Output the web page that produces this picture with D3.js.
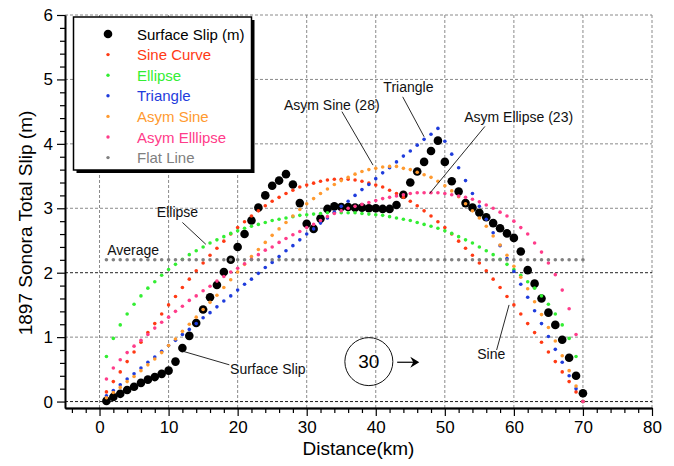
<!DOCTYPE html>
<html>
<head>
<meta charset="utf-8">
<script src="https://cdn.jsdelivr.net/npm/d3@7"></script>
<style>
  body { margin: 0; background: #fff; }
  svg { display: block; }
  text { font-family: "Liberation Sans", Arial, Helvetica, sans-serif; }
</style>
</head>
<body>
<svg id="chart" width="674" height="466"></svg>
<script>
// Distance along the 1897 Sonora rupture (km)
const distanceKm = [1,2,3,4,5,6,7,8,9,10,11,12,13,14,15,16,17,18,19,20,
  21,22,23,24,25,26,27,28,29,30,31,32,33,34,35,36,37,38,39,40,
  41,42,43,44,45,46,47,48,49,50,51,52,53,54,55,56,57,58,59,60,
  61,62,63,64,65,66,67,68,69,70];

// Measured surface slip (m)
const surfaceSlip = [0.01,0.07,0.12,0.18,0.23,0.29,0.34,0.38,0.43,0.48,
  0.62,0.83,1.02,1.22,1.43,1.62,1.81,2.01,2.20,2.40,
  2.60,2.81,3.01,3.20,3.35,3.43,3.53,3.37,3.08,2.76,
  2.68,2.84,2.99,3.03,3.02,3.02,3.01,3.01,3.00,3.00,
  2.99,2.99,3.05,3.21,3.40,3.57,3.72,3.89,4.05,3.72,
  3.42,3.26,3.08,3.01,2.93,2.86,2.77,2.69,2.61,2.54,
  2.33,2.04,1.83,1.60,1.38,1.19,0.96,0.68,0.40,0.13];

// Model slip profiles (m)
const sineCurve = [0.15,0.31,0.46,0.62,0.77,0.92,1.07,1.21,1.36,1.50,
  1.63,1.77,1.90,2.03,2.15,2.27,2.38,2.49,2.60,2.70,
  2.79,2.88,2.96,3.04,3.11,3.17,3.23,3.28,3.33,3.36,
  3.39,3.42,3.44,3.45,3.45,3.45,3.44,3.42,3.39,3.36,
  3.33,3.28,3.23,3.17,3.11,3.04,2.96,2.88,2.79,2.70,
  2.60,2.49,2.38,2.27,2.15,2.03,1.90,1.77,1.63,1.50,
  1.36,1.21,1.07,0.92,0.77,0.62,0.46,0.31,0.15,0.00];

const ellipse = [0.70,0.98,1.19,1.36,1.51,1.64,1.76,1.86,1.96,2.05,
  2.13,2.21,2.28,2.34,2.40,2.46,2.51,2.56,2.61,2.65,
  2.69,2.72,2.75,2.78,2.81,2.83,2.85,2.87,2.89,2.90,
  2.91,2.92,2.93,2.93,2.93,2.93,2.93,2.92,2.91,2.90,
  2.89,2.87,2.85,2.83,2.81,2.78,2.75,2.72,2.69,2.65,
  2.61,2.56,2.51,2.46,2.40,2.34,2.28,2.21,2.13,2.05,
  1.96,1.86,1.76,1.64,1.51,1.36,1.19,0.98,0.70,0.00];

const triangle = [0.09,0.17,0.26,0.35,0.43,0.52,0.61,0.69,0.78,0.87,
  0.95,1.04,1.12,1.21,1.30,1.38,1.47,1.56,1.64,1.73,
  1.82,1.90,1.99,2.08,2.16,2.25,2.34,2.42,2.51,2.60,
  2.68,2.77,2.85,2.94,3.03,3.11,3.20,3.29,3.37,3.46,
  3.55,3.63,3.72,3.81,3.89,3.98,4.07,4.15,4.24,4.04,
  3.84,3.63,3.43,3.23,3.03,2.83,2.62,2.42,2.22,2.02,
  1.82,1.62,1.41,1.21,1.01,0.81,0.61,0.40,0.20,0.00];

const asymSine = [0.06,0.14,0.22,0.31,0.39,0.48,0.57,0.66,0.76,0.87,
  0.97,1.09,1.20,1.31,1.43,1.54,1.65,1.77,1.89,2.01,
  2.13,2.25,2.36,2.47,2.58,2.68,2.78,2.88,2.98,3.07,
  3.15,3.23,3.30,3.37,3.43,3.48,3.53,3.57,3.60,3.62,
  3.64,3.65,3.65,3.62,3.60,3.56,3.52,3.48,3.42,3.35,
  3.27,3.18,3.07,2.96,2.85,2.72,2.57,2.43,2.27,2.10,
  1.93,1.75,1.55,1.35,1.15,0.94,0.71,0.48,0.24,0.00];

const asymEllipse = [0.35,0.52,0.65,0.76,0.86,0.95,1.04,1.14,1.23,1.31,
  1.40,1.48,1.57,1.64,1.72,1.79,1.87,1.94,2.01,2.07,
  2.14,2.21,2.28,2.35,2.40,2.47,2.53,2.59,2.64,2.70,
  2.75,2.81,2.87,2.92,2.96,3.00,3.03,3.06,3.09,3.12,
  3.15,3.17,3.19,3.21,3.23,3.24,3.24,3.24,3.24,3.23,
  3.21,3.19,3.17,3.14,3.10,3.05,3.00,2.94,2.88,2.80,
  2.70,2.60,2.46,2.32,2.15,1.97,1.73,1.44,1.04,0.00];

// Average slip along the rupture (m)
const averageSlip = 2.2;
const flatLine = distanceKm.map(() => averageSlip);

const xTickValues = [0,10,20,30,40,50,60,70,80];
const yTickValues = [0,1,2,3,4,5,6];
const xMinorTicks = [-4,-2,2,4,6,8,12,14,16,18,22,24,26,28,32,34,36,38,42,44,46,48,52,54,56,58,62,64,66,68,72,74,76,78];
const yMinorTicks = [0.2,0.4,0.6,0.8,1.2,1.4,1.6,1.8,2.2,2.4,2.6,2.8,3.2,3.4,3.6,3.8,4.2,4.4,4.6,4.8,5.2,5.4,5.6,5.8];

const seriesNames = ["Sine Curve","Ellipse","Triangle","Asym Sine","Asym Elllipse","Flat Line"];
const seriesValues = [sineCurve, ellipse, triangle, asymSine, asymEllipse, flatLine];
const seriesColors = ["#ff3a14","#33ee33","#1f3cdc","#ff9a30","#ff3c8a","#808080"];

const svg = d3.select("#chart");
const x = d3.scaleLinear().domain([-5, 80]).range([65, 652]);
const y = d3.scaleLinear().domain([-0.1, 6]).range([408, 15]);

// Dashed grid
const grid = svg.append("g");
grid.selectAll("line.v").data(xTickValues).join("line")
  .attr("x1", d => x(d)).attr("x2", d => x(d))
  .attr("y1", y(6)).attr("y2", y(-0.1))
  .attr("stroke", "#8a8a8a").attr("stroke-width", 1).attr("stroke-dasharray", "3,2");
grid.selectAll("line.h").data(yTickValues).join("line")
  .attr("x1", x(-5)).attr("x2", x(80))
  .attr("y1", d => y(d)).attr("y2", d => y(d))
  .attr("stroke", d => (d === 0 || d === 2) ? "#222" : "#8a8a8a")
  .attr("stroke-width", 1).attr("stroke-dasharray", "3,2");

// Axes
const fontTicks = 17;
const fmt = d3.format("d");
const gLeft = svg.append("g").attr("transform", `translate(${x(-5)},0)`)
  .call(d3.axisLeft(y).tickValues(yTickValues).tickFormat(fmt).tickSize(8).tickPadding(4).tickSizeOuter(0));
const gLeftMinor = svg.append("g").attr("transform", `translate(${x(-5)},0)`)
  .call(d3.axisLeft(y).tickValues(yMinorTicks).tickSize(5).tickFormat("").tickSizeOuter(0));
const gBottom = svg.append("g").attr("transform", `translate(0,${y(-0.1)})`)
  .call(d3.axisBottom(x).tickValues(xTickValues).tickFormat(fmt).tickSize(8).tickPadding(5).tickSizeOuter(0));
const gBottomMinor = svg.append("g").attr("transform", `translate(0,${y(-0.1)})`)
  .call(d3.axisBottom(x).tickValues(xMinorTicks).tickSize(5).tickFormat("").tickSizeOuter(0));
[gLeft, gLeftMinor, gBottom, gBottomMinor].forEach(g => {
  g.selectAll("text").attr("font-size", fontTicks).attr("fill", "#000")
    .attr("font-family", "'Liberation Sans', Arial, sans-serif");
  g.selectAll("line").attr("stroke", "#000").attr("stroke-width", 1.2);
  g.select(".domain").attr("stroke", "#000").attr("stroke-width", 1.6);
});
gBottom.select(".domain").attr("stroke-width", 2);

// Axis titles
svg.append("text")
  .attr("transform", `translate(32,223) rotate(-90)`)
  .attr("text-anchor", "middle").attr("font-size", 19)
  .text("1897 Sonora Total Slip (m)");
svg.append("text")
  .attr("x", (x(-5) + x(80)) / 2).attr("y", 455)
  .attr("text-anchor", "middle").attr("font-size", 19)
  .text("Distance(km)");

// Measured surface slip
svg.append("g").selectAll("circle").data(distanceKm).join("circle")
  .attr("cx", d => x(d)).attr("cy", (d, i) => y(surfaceSlip[i]))
  .attr("r", 4.3).attr("fill", "#000");

// Model profiles
seriesValues.forEach((vals, s) => {
  svg.append("g").selectAll("circle").data(distanceKm).join("circle")
    .attr("cx", d => x(d)).attr("cy", (d, i) => y(vals[i]))
    .attr("r", 1.8).attr("fill", seriesColors[s]);
});

// Annotations (positions in data units)
const labels = [
  { text: "Triangle", at: [41.1, 4.80], from: [43.9, 4.73], to: [47.0, 4.11] },
  { text: "Asym Sine (28)", at: [26.7, 4.53], from: [35.1, 4.50], to: [39.6, 3.67] },
  { text: "Asym Ellipse (23)", at: [52.8, 4.34], from: [55.8, 4.27], to: [47.8, 3.23] },
  { text: "Ellipse", at: [8.3, 2.86], from: [12.0, 2.78], to: [15.4, 2.44] },
  { text: "Average", at: [1.1, 2.27], from: null, to: null },
  { text: "Surface Slip", at: [18.9, 0.43], from: [18.8, 0.57], to: [12.1, 0.78] },
  { text: "Sine", at: [54.7, 0.66], from: [57.5, 0.80], to: [59.3, 1.50] }
];
const ann = svg.append("g");
labels.forEach(l => {
  ann.append("text").attr("x", x(l.at[0])).attr("y", y(l.at[1]))
    .attr("font-size", 14).attr("fill", "#111").text(l.text);
  if (l.from) {
    ann.append("line")
      .attr("x1", x(l.from[0])).attr("y1", y(l.from[1]))
      .attr("x2", x(l.to[0])).attr("y2", y(l.to[1]))
      .attr("stroke", "#111").attr("stroke-width", 0.9);
  }
});

// Circled "30" with arrow
const circ = [39.0, 0.62];
ann.append("circle").attr("cx", x(circ[0])).attr("cy", y(circ[1])).attr("r", 24)
  .attr("fill", "none").attr("stroke", "#111").attr("stroke-width", 1);
ann.append("text").attr("x", x(circ[0])).attr("y", y(circ[1]) + 6.5)
  .attr("text-anchor", "middle").attr("font-size", 19).text("30");
const arrowY = y(0.61), ax0 = x(43.1), ax1 = x(46.3);
ann.append("line").attr("x1", ax0).attr("x2", ax1 - 4).attr("y1", arrowY).attr("y2", arrowY)
  .attr("stroke", "#000").attr("stroke-width", 1.2);
ann.append("path")
  .attr("d", `M${ax1},${arrowY} L${ax1 - 9},${arrowY - 5.5} L${ax1 - 6},${arrowY} L${ax1 - 9},${arrowY + 5.5} Z`)
  .attr("fill", "#000");

// Legend
const legend = svg.append("g").attr("transform", "translate(73.5,17)");
legend.append("rect").attr("x", 3).attr("y", 3).attr("width", 178).attr("height", 153).attr("fill", "#000");
legend.append("rect").attr("x", 0).attr("y", 0).attr("width", 178).attr("height", 153)
  .attr("fill", "#fff").attr("stroke", "#000").attr("stroke-width", 1.5);
const legendNames = ["Surface Slip (m)"].concat(seriesNames);
const legendColors = ["#000"].concat(seriesColors);
legendNames.forEach((name, i) => {
  const cy = 17 + i * 20.6;
  legend.append("circle").attr("cx", 34.5).attr("cy", cy)
    .attr("r", i === 0 ? 4.3 : 1.7).attr("fill", legendColors[i]);
  legend.append("text").attr("x", 63.5).attr("y", cy + 5.5)
    .attr("font-size", 15).attr("fill", legendColors[i])
    .text(name);
});
</script>
</body>
</html>
